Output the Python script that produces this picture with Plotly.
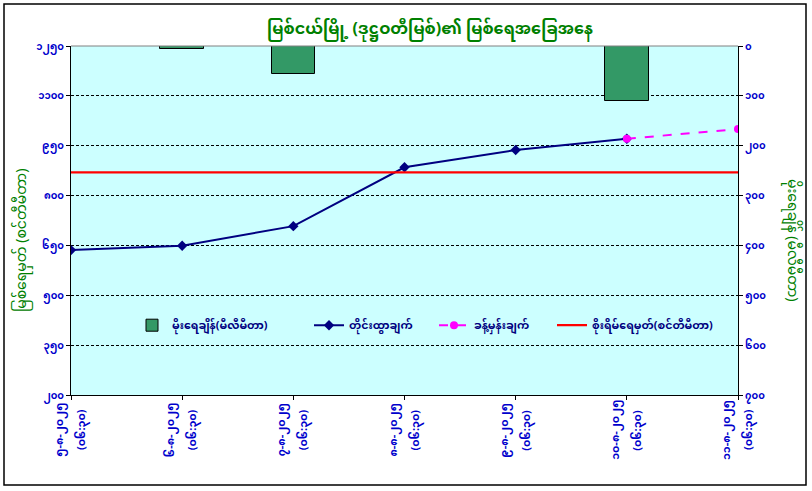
import plotly.graph_objects as go

# ---- data ----
dates = ["၅-၈-၂၀၂၅", "၆-၈-၂၀၂၅", "၇-၈-၂၀၂၅", "၈-၈-၂၀၂၅",
         "၉-၈-၂၀၂၅", "၁၀-၈-၂၀၂၅", "၁၁-၈-၂၀၂၅"]
times = ["(၀၆:၃၀)"] * 7
rainfall_mm = [0, 7, 57, 0, 0, 110, None]
observed_cm = [636, 649, 708, 885, 937, 971, None]
forecast_cm = [None, None, None, None, None, 971, 1000]
warning_cm = 870

left_ticks = [200, 350, 500, 650, 800, 950, 1100, 1250]
left_tick_text = ["၂၀၀", "၃၅၀", "၅၀၀", "၆၅၀", "၈၀၀", "၉၅၀", "၁၁၀၀", "၁၂၅၀"]
right_ticks = [0, 100, 200, 300, 400, 500, 600, 700]
right_tick_text = ["၀", "၁၀၀", "၂၀၀", "၃၀၀", "၄၀၀", "၅၀၀", "၆၀၀", "၇၀၀"]

title_text = "မြစ်ငယ်မြို့ (ဒုဋ္ဌဝတီမြစ်)၏ မြစ်ရေအခြေအနေ"
left_title = "မြစ်ရေမှတ် (စင်တီမီတာ)"
right_title = "မိုးရေချိန် (မီလီမီတာ)"
legend_names = ["မိုးရေချိန်(မီလီမီတာ)", "တိုင်းထွာချက်", "ခန့်မှန်းချက်",
                "စိုးရိမ်ရေမှတ်(စင်တီမီတာ)"]

FONT = "Noto Sans Myanmar, Padauk, Myanmar Text, Pyidaungsu, Noto Sans, sans-serif"
xpos = list(range(len(dates)))
PLOT_W = 667.0
PLOT_H = 349.0
TICK_BLUE = "#0000CC"


def b(s):
    return "<b>" + s + "</b>"


fig = go.Figure()
fig.add_trace(go.Bar(
    x=xpos, y=rainfall_mm, yaxis="y2", width=0.39,
    marker=dict(color="#339966", line=dict(color="black", width=1)),
    name=b(legend_names[0]), legend="legend"))
fig.add_trace(go.Scatter(
    x=xpos, y=observed_cm, mode="lines+markers",
    line=dict(color="#000080", width=2),
    marker=dict(symbol="diamond", size=8, color="#000080"),
    name=b(legend_names[1]), legend="legend2"))
fig.add_trace(go.Scatter(
    x=xpos, y=forecast_cm, mode="lines+markers",
    line=dict(color="#FF00FF", width=2, dash="dash"),
    marker=dict(symbol="circle", size=8, color="#FF00FF"),
    name=b(legend_names[2]), legend="legend3"))
fig.add_trace(go.Scatter(
    x=[xpos[0], xpos[-1]], y=[warning_cm, warning_cm], mode="lines",
    line=dict(color="#FF0000", width=2.2),
    name=b(legend_names[3]), legend="legend4"))

annotations = [
    dict(text=left_title, xref="paper", yref="paper", x=-49 / PLOT_W, y=0.444,
         textangle=-90, showarrow=False, xanchor="center", yanchor="middle",
         font=dict(size=14, color="#008000", family=FONT)),
    dict(text=right_title, xref="paper", yref="paper", x=1 + 54 / PLOT_W, y=0.444,
         textangle=90, showarrow=False, xanchor="center", yanchor="middle",
         font=dict(size=14, color="#008000", family=FONT)),
]
for i, (d, t) in enumerate(zip(dates, times)):
    annotations.append(dict(text=b(d), x=i, xref="x", y=-35 / PLOT_H, yref="paper",
                            textangle=-90, showarrow=False, xanchor="center",
                            yanchor="middle", xshift=-11,
                            font=dict(size=11, color=TICK_BLUE, family=FONT)))
    annotations.append(dict(text=b(t), x=i, xref="x", y=-35 / PLOT_H, yref="paper",
                            textangle=-90, showarrow=False, xanchor="center",
                            yanchor="middle", xshift=11,
                            font=dict(size=11, color=TICK_BLUE, family=FONT)))


def legend_at(px):
    return dict(orientation="h", x=(px - 71) / PLOT_W, y=0.2, xanchor="left",
                yanchor="middle", bgcolor="rgba(0,0,0,0)",
                font=dict(size=11, color="#000080", family=FONT))


fig.update_layout(
    width=812, height=491,
    margin=dict(l=71, r=74, t=46, b=96),
    paper_bgcolor="white", plot_bgcolor="#CCFFFF",
    font=dict(family=FONT, color="#000080"),
    showlegend=True,
    legend=legend_at(132),
    legend2=legend_at(309),
    legend3=legend_at(434),
    legend4=legend_at(552),
    title=dict(text=b(title_text), x=430 / 812, xanchor="center",
               y=1 - 28 / 491, yanchor="middle",
               font=dict(size=16, color="#008000", family=FONT)),
    xaxis=dict(range=[0, 6], tickvals=xpos, showticklabels=False,
               showgrid=False, zeroline=False, showline=True, linecolor="black",
               linewidth=1, ticks="outside", ticklen=4, tickcolor="black"),
    yaxis=dict(range=[200, 1250], tickvals=left_ticks,
               ticktext=[b(s) for s in left_tick_text],
               showgrid=True, gridcolor="black", griddash="3px,2px", gridwidth=1,
               zeroline=False, showline=True, linecolor="black", linewidth=1,
               ticks="outside", ticklen=4, tickcolor="black",
               tickfont=dict(size=10, color=TICK_BLUE)),
    yaxis2=dict(range=[700, 0], tickvals=right_ticks,
                ticktext=[b(s) for s in right_tick_text],
                overlaying="y", side="right", showgrid=False, zeroline=False,
                showline=True, linecolor="black", linewidth=1,
                ticks="outside", ticklen=4, tickcolor="black",
                tickfont=dict(size=10, color=TICK_BLUE)),
    bargap=0,
    shapes=[
        dict(type="line", xref="paper", yref="paper", x0=0, x1=1, y0=1, y1=1,
             line=dict(color="#808080", width=1)),
        dict(type="rect", xref="paper", yref="paper",
             x0=-67 / PLOT_W, x1=735 / PLOT_W, y0=-90 / PLOT_H, y1=(PLOT_H + 42) / PLOT_H,
             line=dict(color="black", width=1.5), layer="below"),
    ],
    annotations=annotations,
)

fig.write_html("out.html", config={"displayModeBar": False},
               post_script="document.body.style.margin='0';")
